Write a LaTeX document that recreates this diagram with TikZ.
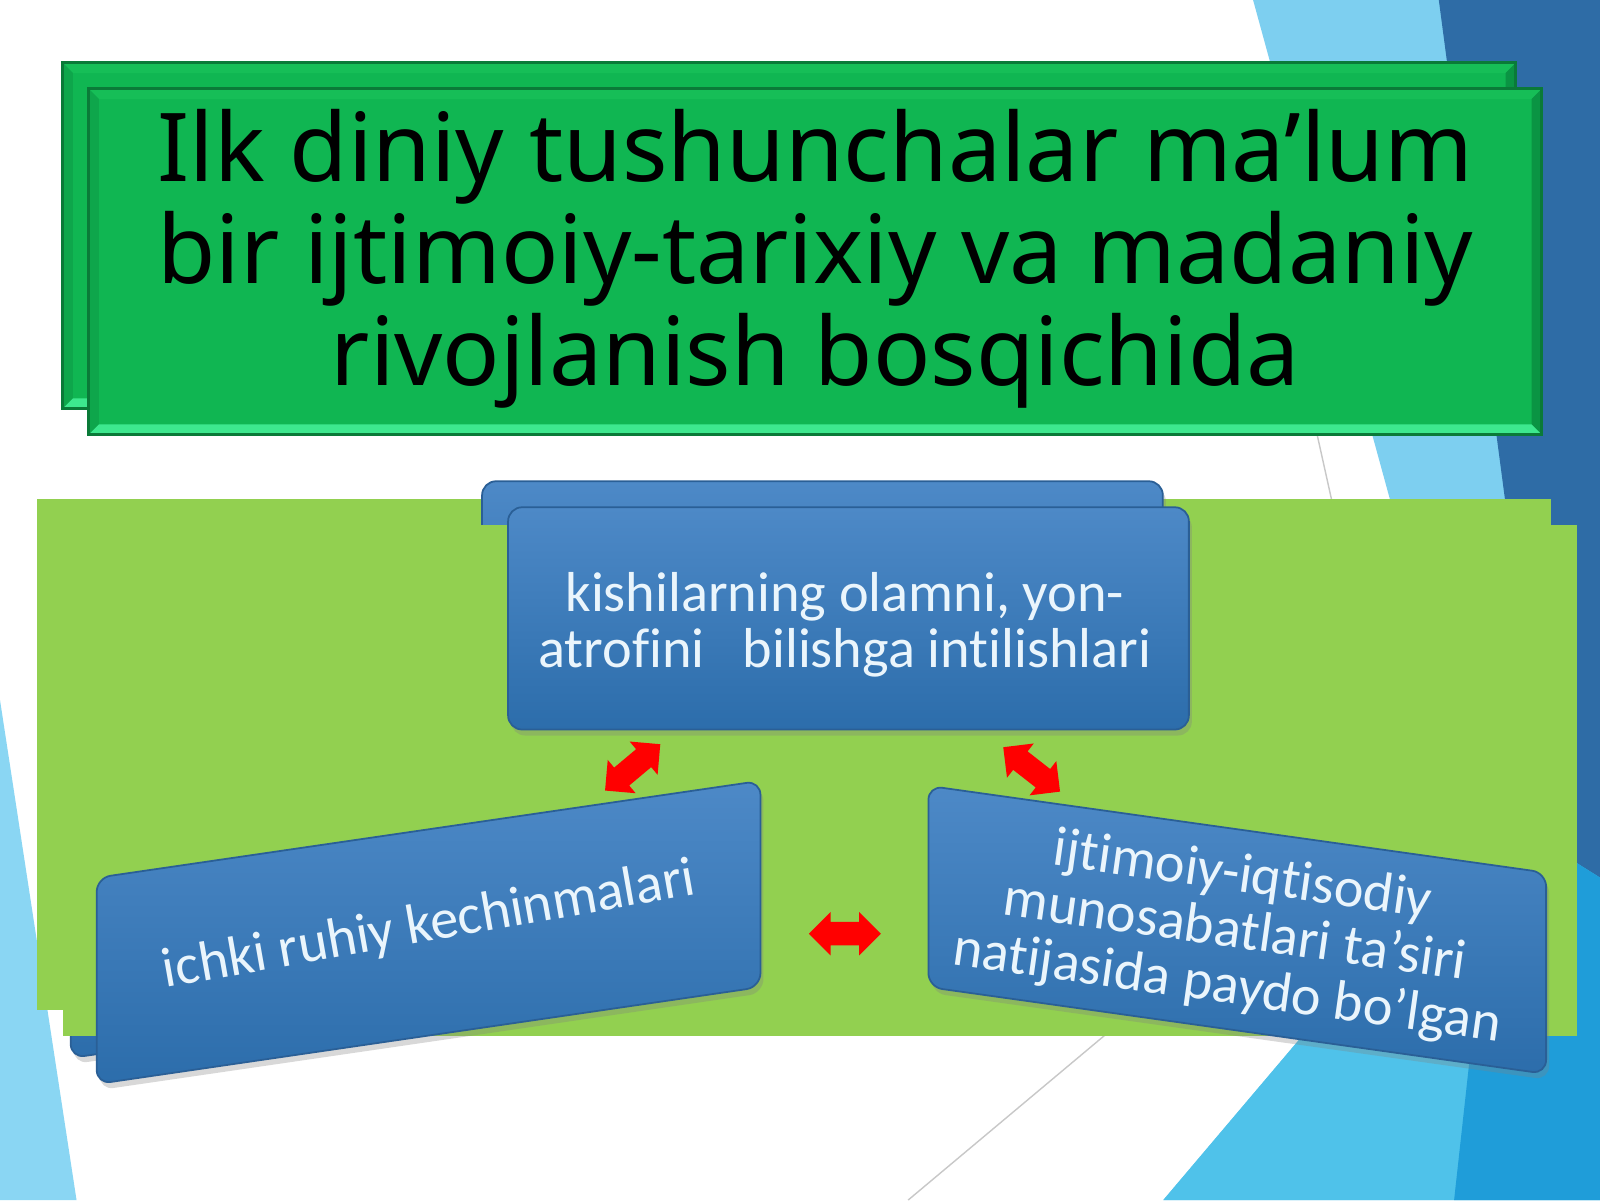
\documentclass[tikz,border=0pt]{standalone}
\usepackage{fontspec}
\setmainfont{Noto Sans}
\newfontfamily\boxfont[Ligatures=NoCommon]{Carlito}
\usetikzlibrary{shapes.arrows,shadows,calc}
\definecolor{lblue}{HTML}{7DCFF0}
\definecolor{cblue}{HTML}{4FC2EA}
\definecolor{dblue}{HTML}{2E6CA6}
\definecolor{bblue}{HTML}{1F9DD9}
\definecolor{sblue}{HTML}{8AD6F3}
\definecolor{tgreen}{HTML}{10B652}
\definecolor{tgreenlight}{HTML}{3DE88E}
\definecolor{tgreentop}{HTML}{16BE57}
\definecolor{tgreenleft}{HTML}{0EA64B}
\definecolor{tgreenright}{HTML}{0A9443}
\definecolor{tgreenedge}{HTML}{0A7A38}
\definecolor{pgreen}{HTML}{92D050}
\definecolor{boxtop}{HTML}{4D89C7}
\definecolor{boxbot}{HTML}{2C6DAB}
\definecolor{boxedge}{HTML}{2A5F96}
\definecolor{boxtextc}{HTML}{EAF5FC}
\definecolor{faint}{HTML}{C8C8C8}
\tikzset{
  titlebox/.style={fill=tgreen, inner sep=0pt, minimum width=14.50cm, minimum height=3.44cm},
  titletext/.style={align=center, font=\fontsize{27}{29}\selectfont, text=black, inner sep=0pt},
  panel/.style={fill=pgreen, inner sep=0pt, minimum width=15.13cm, minimum height=5.10cm},
  bluebox/.style={top color=boxtop, bottom color=boxbot, draw=boxedge, line width=0.5pt,
    rounded corners=0.14cm, inner sep=0pt,
    drop shadow={shadow xshift=0.03cm, shadow yshift=-0.06cm, opacity=0.3}},
  boxtext/.style={text=boxtextc, align=center, inner sep=0pt, font=\boxfont\fontsize{16}{16}\selectfont},
  redarrow/.style={double arrow, fill=red, inner xsep=0pt, inner ysep=0.11cm, minimum height=0.72cm,
    double arrow head extend=0.1cm},
  thinline/.style={draw=faint, line width=0.4pt}
}
% #1 = name prefix, #2 = 1 to set the texts (front copy only)
\newcommand\slidelayer[2]{%
  % title box with bevel
  \node[titlebox] (#1title) at (799,256.5) {};
  \fill[tgreentop] (#1title.north west) -- (#1title.north east) -- ($(#1title.north east)+(-10,10)$) -- ($(#1title.north west)+(10,10)$) -- cycle;
  \fill[tgreenleft] (#1title.north west) -- ($(#1title.north west)+(10,10)$) -- ($(#1title.south west)+(10,-10)$) -- (#1title.south west) -- cycle;
  \fill[tgreenright] (#1title.north east) -- ($(#1title.north east)+(-10,10)$) -- ($(#1title.south east)+(-10,-10)$) -- (#1title.south east) -- cycle;
  \fill[tgreenlight] (#1title.south west) -- (#1title.south east) -- ($(#1title.south east)+(-10,-10)$) -- ($(#1title.south west)+(10,-10)$) -- cycle;
  \draw[tgreenedge, line width=0.8pt] (#1title.north west) rectangle (#1title.south east);
  % green panel
  \node[panel] (#1panel) at (803.5,765) {};
  % top box
  \node[bluebox, minimum width=6.80cm, minimum height=2.22cm] (#1topbox) at (831.5,606) {};
  % left box
  \begin{scope}[shift={(420,913.75)}, yslant=0.146]
    \node[bluebox, transform shape, minimum width=6.63cm, minimum height=2.06cm] (#1leftbox) at (0,0) {};
  \end{scope}
  % right box
  \begin{scope}[shift={(1212.5,911.25)}, yslant=-0.1405]
    \node[bluebox, transform shape, minimum width=6.17cm, minimum height=2.01cm] (#1rightbox) at (0,0) {};
  \end{scope}
  \ifnum#2=1
    \node[titletext] (#1titletext) at (799,254) {Ilk diniy tushunchalar ma’lum\\bir ijtimoiy-tarixiy va madaniy\\rivojlanish bosqichida};
    \node[boxtext] (#1toptext) at (828,612) {kishilarning olamni, yon-\\atrofini\ \ \ bilishga intilishlari};
    \node[boxtext, rotate=10, anchor=base] (#1lefttext) at (423,922) {ichki ruhiy kechinmalari};
    \node[boxtext, rotate=-8] (#1righttext) at (1210,914) {ijtimoiy-iqtisodiy\\munosabatlari ta’siri\\natijasida paydo bo’lgan};
  \fi
  % red double arrows
  \node[redarrow, rotate=40] (#1arrowl) at (620,752) {};
  \node[redarrow, rotate=-38] (#1arrowr) at (1011,754) {};
  \node[redarrow] (#1arrowm) at (828,915) {};
}
\begin{document}
\begin{tikzpicture}[x=0.0102cm, y=-0.0102cm]
  \useasboundingbox (0,0) rectangle (1568,1176);
  \clip (0,0) rectangle (1568,1176);
  \fill[white] (0,0) rectangle (1568,1176);
  % background decoration
  \fill[lblue] (1228,0) -- (1568,0) -- (1568,1176) -- (1140,1176) -- (1450,810) -- cycle;
  \fill[cblue] (1450,810) -- (1568,810) -- (1568,1176) -- (1140,1176) -- cycle;
  \fill[dblue] (1410,0) -- (1568,0) -- (1568,860) -- (1520,830) -- cycle;
  \fill[bblue] (1520,830) -- (1568,860) -- (1568,1176) -- (1425,1176) -- (1440,1040) -- cycle;
  \fill[sblue] (0,686) -- (75,1176) -- (0,1176) -- cycle;
  \draw[thinline] (1285,400) -- (1305,490);
  \draw[thinline] (1100,1000) -- (890,1176);
  % back copy of the slide content
  \begin{scope}[shift={(-25.5,-25.5)}]
    \slidelayer{b}{0}
  \end{scope}
  % front copy
  \slidelayer{f}{1}
\end{tikzpicture}
\end{document}
